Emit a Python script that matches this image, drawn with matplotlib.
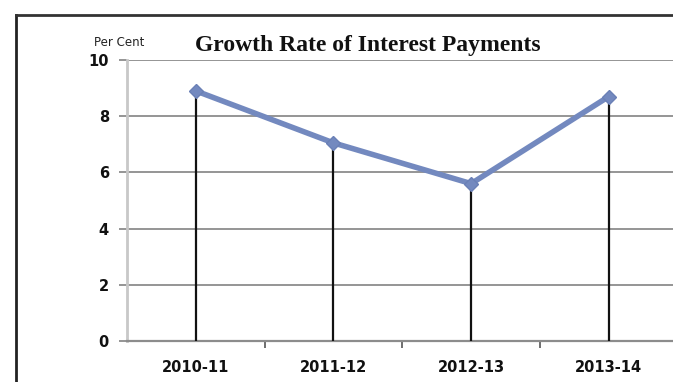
import matplotlib
matplotlib.use("Agg")
import matplotlib.pyplot as plt
from matplotlib.lines import Line2D

years = ["2010-11", "2011-12", "2012-13", "2013-14"]
growth = [8.9, 7.05, 5.6, 8.7]
y_ticks = [0, 2, 4, 6, 8, 10]

W, H = 673, 382
fig = plt.figure(figsize=(W / 100, H / 100), dpi=100)

# plot area in pixel terms
left_px, right_px, top_px, bottom_px = 127, 677.6, 60, 341
ax = fig.add_axes([left_px / W, 1 - bottom_px / H,
                   (right_px - left_px) / W, (bottom_px - top_px) / H])

x = list(range(len(years)))
ax.set_xlim(-0.5, len(years) - 0.5)
ax.set_ylim(0, 10)

grid_c = "#8c8c8c"
ax.set_yticks(y_ticks)
ax.set_yticklabels([str(v) for v in y_ticks])
ax.yaxis.grid(True, color=grid_c, linewidth=1.3)
ax.set_axisbelow(True)

for s in ["top", "right"]:
    ax.spines[s].set_visible(False)
ax.spines["left"].set_color("#c8c8c8")
ax.spines["left"].set_linewidth(2)
ax.spines["bottom"].set_color(grid_c)
ax.spines["bottom"].set_linewidth(1.6)

ax.tick_params(axis="y", length=6, width=1.3, color=grid_c, pad=7,
               labelsize=10.5, labelcolor="#111111")
ax.set_xticks(x)
ax.set_xticklabels(years)
ax.set_xticks([i + 0.5 for i in range(len(years) - 1)], minor=True)
ax.tick_params(axis="x", which="major", length=0, pad=14,
               labelsize=10.5, labelcolor="#111111")
ax.tick_params(axis="x", which="minor", length=5, width=1.2, color="#555555")
for lbl in ax.get_xticklabels() + ax.get_yticklabels():
    lbl.set_fontweight("semibold")

# drop lines from each point to the axis
ax.vlines(x, 0, growth, colors="#111111", linewidth=1.6, zorder=3)

# the series line with diamond markers
ax.plot(x, growth, color="#7389bf", linewidth=4, marker="D", markersize=7,
        markerfacecolor="#7389bf", markeredgecolor="#6a80b6",
        solid_joinstyle="round", zorder=4)

fig.text(368 / W, 1 - 45 / H, "Growth Rate of Interest Payments",
         ha="center", va="center", fontsize=17, fontweight="bold",
         family="Liberation Serif", color="#111111")
fig.text(119 / W, 1 - 42 / H, "Per Cent", ha="center", va="center",
         fontsize=8.5, color="#222222")

# outer chart frame
fig.add_artist(Line2D([16 / W, 16 / W], [0, 1 - 14.5 / H],
                      transform=fig.transFigure, color="#222222", linewidth=2))
fig.add_artist(Line2D([16 / W, 1], [1 - 14.5 / H, 1 - 14.5 / H],
                      transform=fig.transFigure, color="#333333", linewidth=2))

fig.savefig("out.png", dpi=100)
